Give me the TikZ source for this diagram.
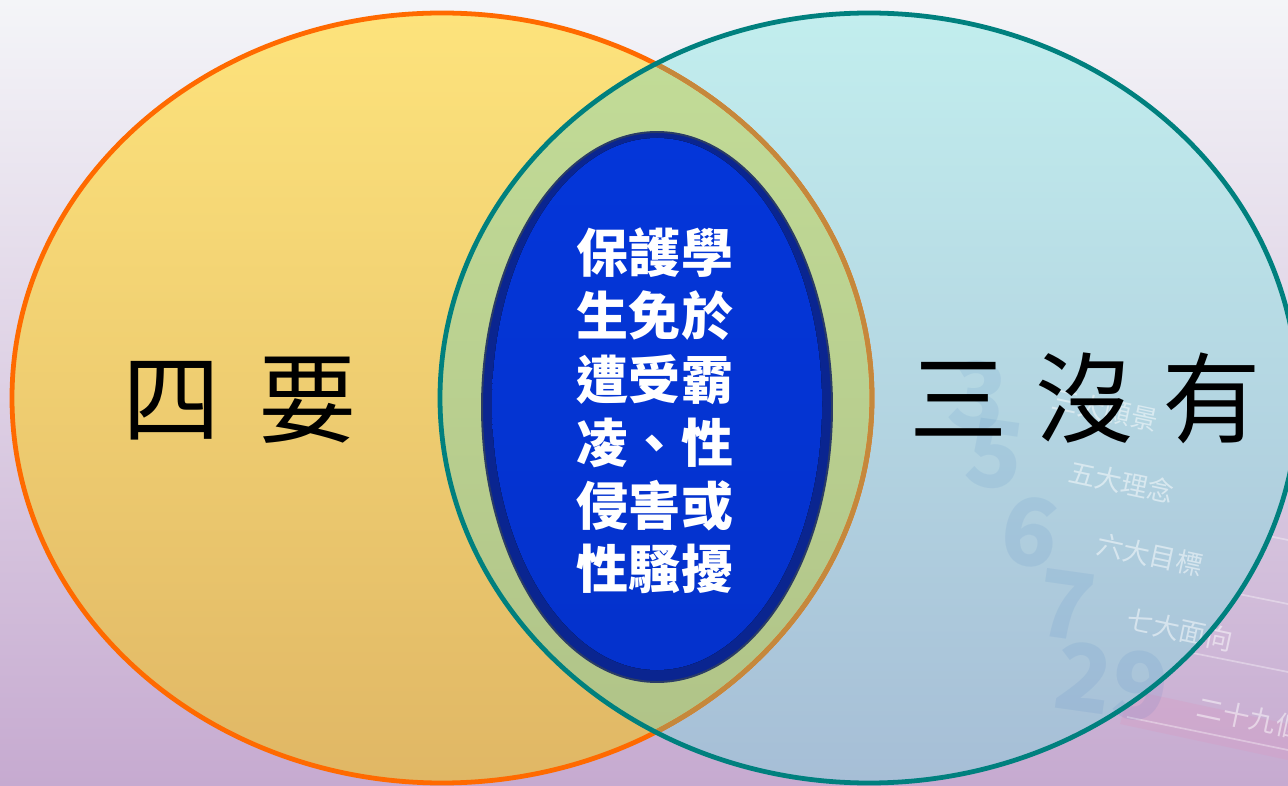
\documentclass[tikz,border=0pt]{standalone}
\usepackage{fontspec}
\newfontfamily\tcfont{Noto Sans CJK TC}
\definecolor{bgtop}{HTML}{F4F5F8}
\definecolor{bgmid}{HTML}{DDE2EC}
\definecolor{bgbot}{HTML}{C6AAD0}
\definecolor{leftfill}{HTML}{FDE37C}
\definecolor{leftfillb}{HTML}{E0B765}
\definecolor{rightfill}{HTML}{C2EEEE}
\definecolor{rightfillb}{HTML}{A6BED6}
\definecolor{both}{HTML}{C3DD98}
\definecolor{bothb}{HTML}{AFC287}
\definecolor{orangeline}{HTML}{FF6A00}
\definecolor{brownline}{HTML}{C5883C}
\definecolor{tealline}{HTML}{00807E}
\definecolor{blueout}{HTML}{0A2590}
\definecolor{ringline}{HTML}{2A3C66}
\definecolor{bluein}{HTML}{0436D9}
\definecolor{blueinb}{HTML}{0432CC}
\definecolor{bandpink}{HTML}{D79CC4}

\begin{document}
\begin{tikzpicture}[x=0.025cm, y=-0.025cm,
	bigword/.style={font=\tcfont\fontsize{70}{70}\selectfont, text=black, inner sep=0pt},
	inword/.style={font=\tcfont\bfseries\fontsize{37}{45}\selectfont, text=white, align=center, inner sep=0pt},
	bgnum/.style={font=\tcfont\bfseries\fontsize{66}{66}\selectfont, text=teal!60!blue, opacity=.07, rotate=-8},
	bgword/.style={font=\tcfont\fontsize{19}{19}\selectfont, text=white, opacity=.5, rotate=-12},
	bgline/.style={white, opacity=.35, line width=1.2pt}]

	\useasboundingbox (0,0) rectangle (1288,786);
	\fill[top color=bgtop, middle color=bgmid, bottom color=bgbot] (0,0) rectangle (1288,786);

	% faint numbered bands behind the right set
	\fill[bandpink, opacity=.35] (1130,690) -- (1288,724) -- (1288,760) -- (1120,724) -- cycle;
	\draw[bgline] (1000,418) -- (1288,478);
	\draw[bgline] (1023,486) -- (1288,540);
	\draw[bgline] (1050,556) -- (1288,604);
	\draw[bgline] (1067,628) -- (1288,672);
	\draw[bgline] (1127,717) -- (1288,750);

	% the two sets
	\fill[top color=leftfill, bottom color=leftfillb] (442,398) ellipse [x radius=430, y radius=385];
	\fill[top color=rightfill, bottom color=rightfillb] (869,398) ellipse [x radius=429, y radius=385];
	\begin{scope}
		\clip (442,398) ellipse [x radius=430, y radius=385];
		\fill[top color=both, bottom color=bothb] (869,398) ellipse [x radius=429, y radius=385];
	\end{scope}

	\node[bgnum] (n3) at (978,396) {3};
	\node[bgnum] (n5) at (995,455) {5};
	\node[bgnum] (n6) at (1030,532) {6};
	\node[bgnum] (n7) at (1066,605) {7};
	\node[bgnum] (n29) at (1112,682) {29};
	\node[bgword] (w3) at (1105,410) {三大願景};
	\node[bgword] (w5) at (1122,482) {五大理念};
	\node[bgword] (w6) at (1150,555) {六大目標};
	\node[bgword] (w7) at (1180,630) {七大面向};
	\node[bgword] (w29) at (1250,718) {二十九個};

	% outlines
	\draw[orangeline, line width=3.4pt] (442,398) ellipse [x radius=430, y radius=385];
	\begin{scope}
		\clip (869,398) ellipse [x radius=429, y radius=385];
		\draw[brownline, line width=3.4pt] (442,398) ellipse [x radius=430, y radius=385];
	\end{scope}
	\draw[tealline, line width=3.4pt] (869,398) ellipse [x radius=429, y radius=385];

	% middle oval
	\fill[blueout] (657,407) ellipse [x radius=175, y radius=275];
	\draw[ringline, line width=1.4pt] (657,407) ellipse [x radius=175, y radius=275];
	\fill[top color=bluein, bottom color=blueinb] (657,404) ellipse [x radius=165, y radius=266];

	\node[bigword] (L) at (240,400) {四\hspace{27pt}要};
	\node[bigword] (R) at (1085,398) {三\hspace{20pt}沒\hspace{20pt}有};
	\node[inword] (M) at (655,411) {保護學\\生免於\\遭受霸\\凌、性\\侵害或\\性騷擾};
\end{tikzpicture}
\end{document}
